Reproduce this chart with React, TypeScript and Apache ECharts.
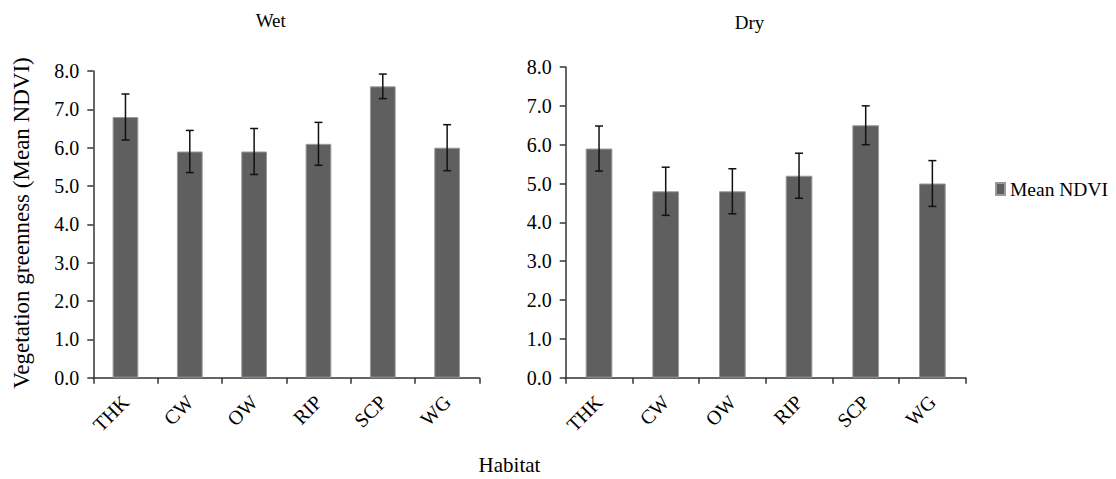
import React, { useEffect, useRef } from "react";
import * as echarts from "echarts";

const categories = ["THK", "CW", "OW", "RIP", "SCP", "WG"];
const wetMean = [6.8, 5.9, 5.9, 6.1, 7.6, 6.0];
const wetErr = [0.6, 0.55, 0.6, 0.56, 0.32, 0.6];
const dryMean = [5.9, 4.8, 4.8, 5.2, 6.5, 5.0];
const dryErr = [0.58, 0.62, 0.58, 0.58, 0.5, 0.59];
const seriesName = "Mean NDVI";

const FONT = "'Liberation Serif', 'Times New Roman', serif";

function errData(mean: number[], err: number[]) {
  return mean.map((m, i) => [i, m - err[i], m + err[i]]);
}

function errorRender(params: any, api: any) {
  const idx = api.value(0);
  const lo = api.coord([idx, api.value(1)]);
  const hi = api.coord([idx, api.value(2)]);
  const hw = 4;
  const style = { stroke: "#111", lineWidth: 1.5 };
  return {
    type: "group",
    children: [
      { type: "line", shape: { x1: hi[0], y1: hi[1], x2: lo[0], y2: lo[1] }, style },
      { type: "line", shape: { x1: hi[0] - hw, y1: hi[1], x2: hi[0] + hw, y2: hi[1] }, style },
      { type: "line", shape: { x1: lo[0] - hw, y1: lo[1], x2: lo[0] + hw, y2: lo[1] }, style },
    ],
  };
}

export default function App() {
  const ref = useRef<HTMLDivElement>(null);
  useEffect(() => {
    document.body.style.margin = "0";
    if (!ref.current) return;
    const chart = echarts.init(ref.current, null, { renderer: "svg" });
    const axisLine = { show: true, lineStyle: { color: "#333", width: 1.5 } };
    const axisTick = { show: true, length: 6, lineStyle: { color: "#333", width: 1.5 } };
    const xAxisBase = (gridIndex: number) => ({
      type: "category",
      gridIndex,
      data: categories,
      boundaryGap: true,
      axisLine,
      axisTick: { ...axisTick, alignWithLabel: false, interval: 0 },
      axisLabel: {
        interval: 0,
        rotate: 45,
        margin: 21,
        color: "#000",
        fontSize: 20,
        fontFamily: FONT,
      },
      splitLine: { show: false },
    });
    const yAxisBase = (gridIndex: number) => ({
      type: "value",
      gridIndex,
      min: 0,
      max: 8,
      interval: 1,
      axisLine,
      axisTick,
      axisLabel: {
        margin: 14,
        color: "#000",
        fontSize: 20,
        fontFamily: FONT,
        formatter: (v: number) => v.toFixed(1),
      },
      splitLine: { show: false },
    });
    const barStyle = { color: "#5f5f5f", borderColor: "#9a9a9a", borderWidth: 1 };
    chart.setOption({
      animation: false,
      backgroundColor: "#fff",
      grid: [
        { left: 93.3, top: 71, width: 386, height: 306.7, outerBoundsMode: "none", containLabel: false },
        { left: 565.7, top: 67, width: 400, height: 310.7, outerBoundsMode: "none", containLabel: false },
      ],
      xAxis: [xAxisBase(0), xAxisBase(1)],
      yAxis: [yAxisBase(0), yAxisBase(1)],
      legend: {
        data: [seriesName],
        left: 990,
        top: 174,
        padding: 5,
        icon: "rect",
        itemWidth: 9,
        itemHeight: 12,
        textStyle: { color: "#000", fontSize: 19.5, fontFamily: FONT },
      },
      series: [
        {
          name: seriesName,
          type: "bar",
          xAxisIndex: 0,
          yAxisIndex: 0,
          data: wetMean,
          barWidth: "40%",
          itemStyle: barStyle,
        },
        {
          name: seriesName,
          type: "bar",
          xAxisIndex: 1,
          yAxisIndex: 1,
          data: dryMean,
          barWidth: "40%",
          itemStyle: barStyle,
        },
        {
          name: "errWet",
          type: "custom",
          xAxisIndex: 0,
          yAxisIndex: 0,
          data: errData(wetMean, wetErr),
          renderItem: errorRender,
          z: 10,
        },
        {
          name: "errDry",
          type: "custom",
          xAxisIndex: 1,
          yAxisIndex: 1,
          data: errData(dryMean, dryErr),
          renderItem: errorRender,
          z: 10,
        },
      ],
      graphic: [
        {
          type: "text",
          x: 270.7,
          y: 20.7,
          style: { text: "Wet", fill: "#000", fontSize: 19, fontFamily: FONT, align: "center", verticalAlign: "middle" },
        },
        {
          type: "text",
          x: 749.5,
          y: 22.3,
          style: { text: "Dry", fill: "#000", fontSize: 19, fontFamily: FONT, align: "center", verticalAlign: "middle" },
        },
        {
          type: "text",
          x: 509.5,
          y: 465,
          style: { text: "Habitat", fill: "#000", fontSize: 21, fontFamily: FONT, align: "center", verticalAlign: "middle" },
        },
        {
          type: "text",
          x: 21,
          y: 223,
          rotation: Math.PI / 2,
          style: {
            text: "Vegetation greenness (Mean NDVI)",
            fill: "#000",
            fontSize: 23,
            fontFamily: FONT,
            align: "center",
            verticalAlign: "middle",
          },
        },
      ],
    });
    return () => chart.dispose();
  }, []);
  return <div ref={ref} style={{ width: 1116, height: 479 }} />;
}
